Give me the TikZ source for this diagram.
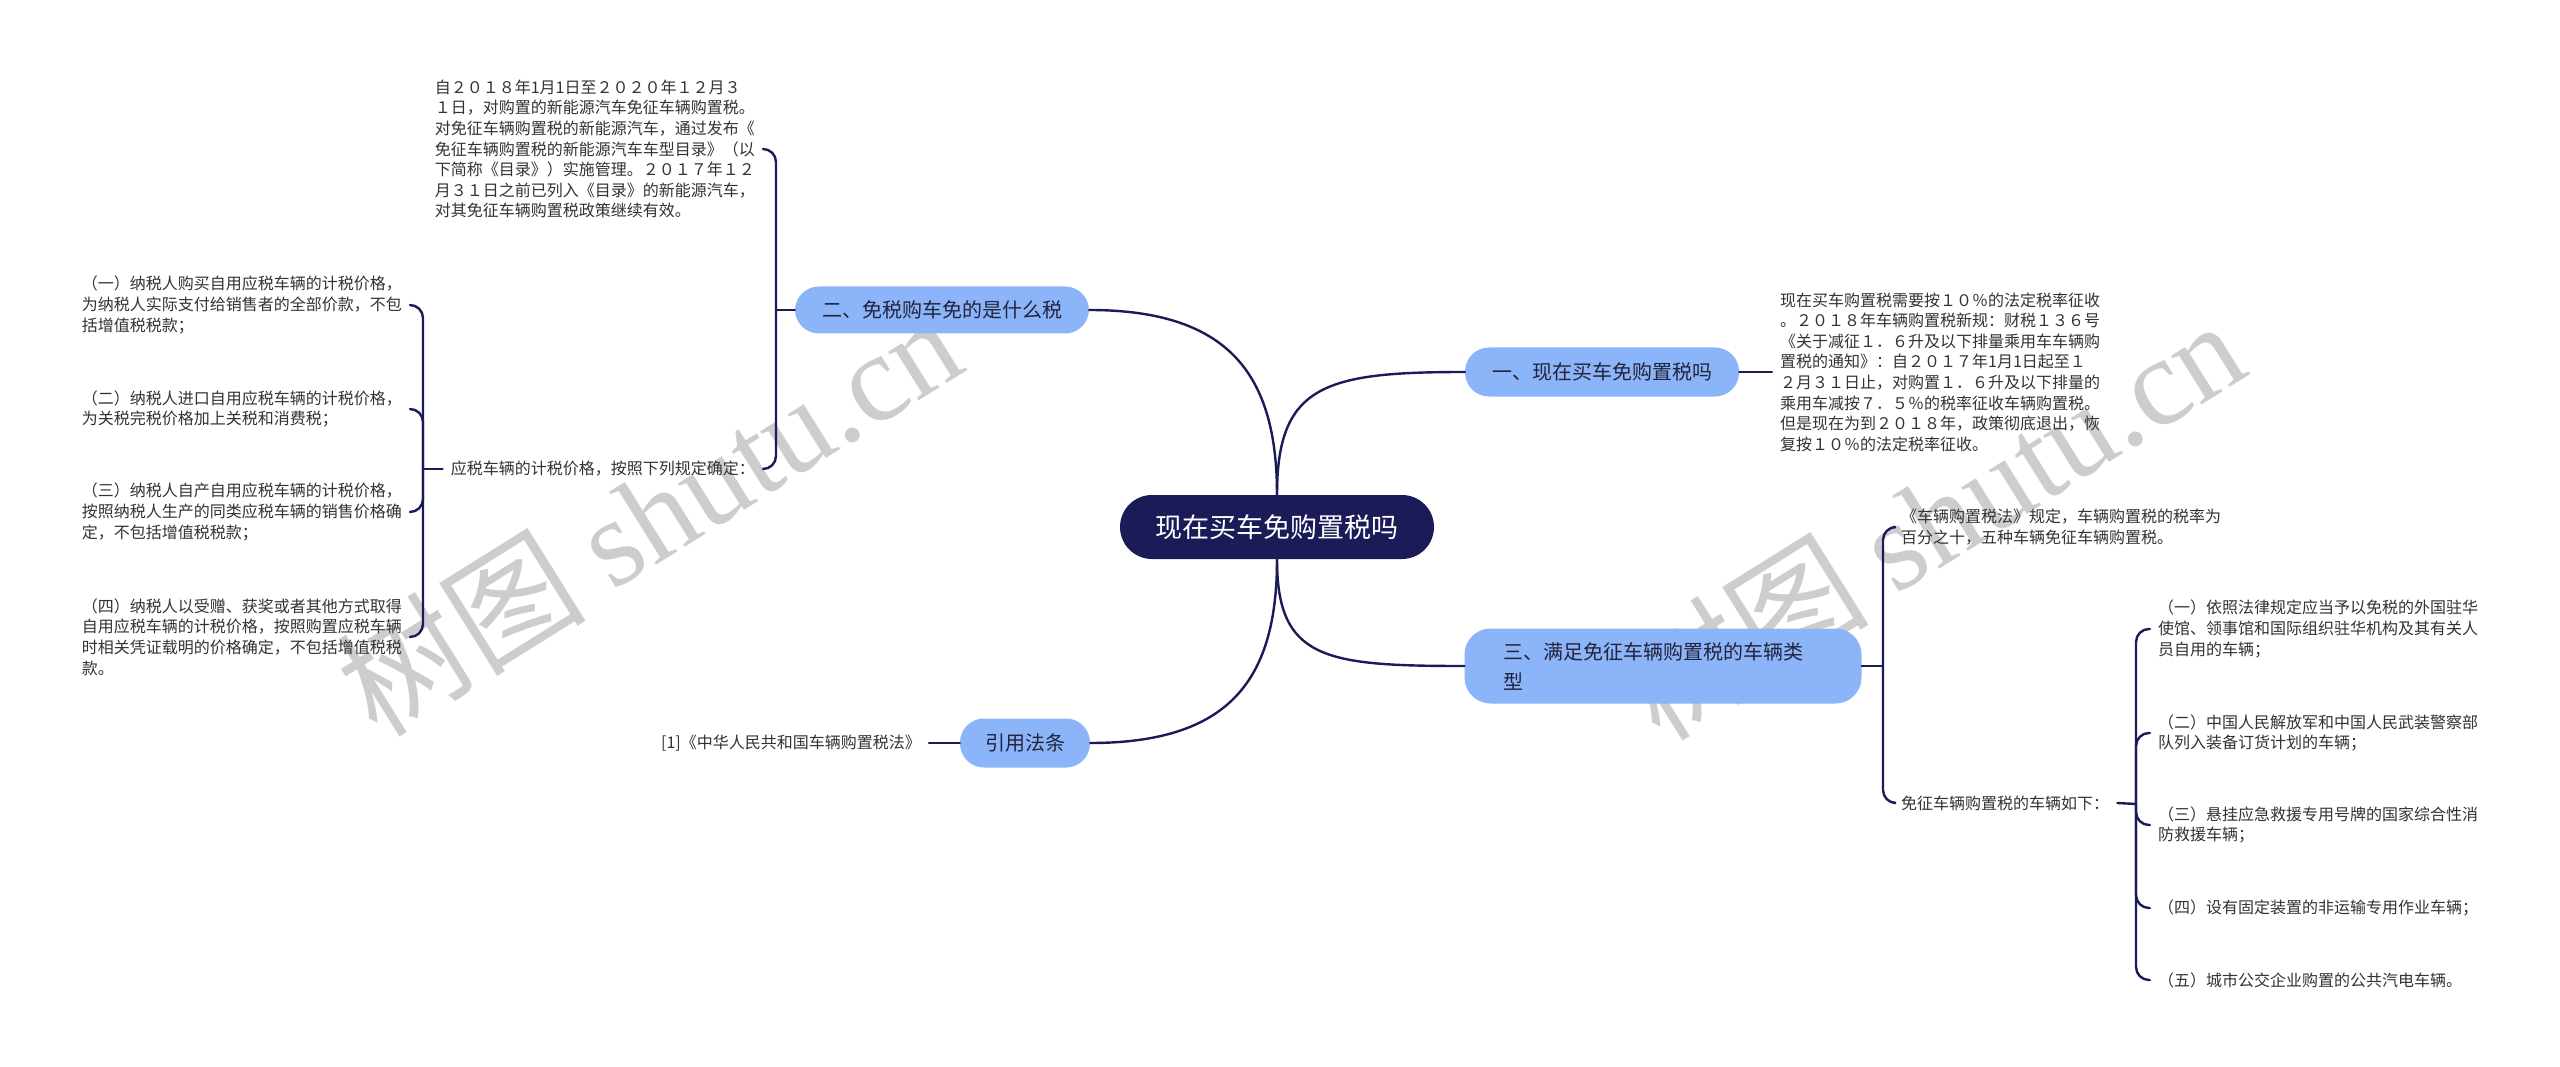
\documentclass[tikz,border=0pt]{standalone}
\usepackage{fontspec}
\setmainfont{Noto Sans CJK SC}
\newfontfamily\wmlatin{Liberation Serif}
\definecolor{navy}{RGB}{27,27,88}
\definecolor{lblue}{RGB}{140,180,248}
\definecolor{txt}{RGB}{50,50,55}
\definecolor{btxt}{RGB}{35,35,60}
\definecolor{wmgray}{RGB}{205,205,205}
\begin{document}
\begin{tikzpicture}[x=1pt,y=-1pt,
  conn/.style={draw=navy, line width=2.4pt, line cap=round},
  brk/.style={conn, rounded corners=13pt},
  rootbox/.style={fill=navy, text=white, rounded corners=32pt, minimum height=64pt, minimum width=314pt, inner sep=0pt, font=\fontsize{27}{30}\selectfont},
  branch/.style={fill=lblue, text=btxt, rounded corners=24pt, minimum height=49pt, inner sep=0pt, font=\fontsize{20}{24}\selectfont},
  leaf/.style={text=txt, align=left, inner xsep=8pt, inner ysep=2pt, font=\fontsize{16}{20.6}\selectfont},
  wmark/.style={text=wmgray, inner sep=0pt}]
\useasboundingbox[fill=white] (0,0) rectangle (2560,1067);

% watermarks
\node[wmark, rotate=32] (wm1) at (648,514) {\fontsize{125}{130}\selectfont 树图 {\wmlatin shutu.cn}};
\node[wmark, rotate=32] (wm2) at (1931,518) {\fontsize{125}{130}\selectfont 树图 {\wmlatin shutu.cn}};

% root and branches
\node[rootbox] (root) at (1277,527) {现在买车免购置税吗};
\node[branch, minimum width=274pt] (b1) at (1602,372) {一、现在买车免购置税吗};
\node[branch, minimum width=294pt, minimum height=47pt] (b2) at (942,310) {二、免税购车免的是什么税};
\node[branch, minimum width=397pt, minimum height=75pt, rounded corners=26pt, text width=320pt, align=left, font=\fontsize{20}{30}\selectfont] (b3) at (1663,666) {三、满足免征车辆购置税的车辆类\\型};
\node[branch, minimum width=130pt] (b4) at (1025,743) {引用法条};

% branch 1 leaf
\node[leaf, anchor=west] (t1) at (1772,372) {现在买车购置税需要按１０％的法定税率征收\\。２０１８年车辆购置税新规：财税１３６号\\《关于减征１．６升及以下排量乘用车车辆购\\置税的通知》：自２０１７年1月1日起至１\\２月３１日止，对购置１．６升及以下排量的\\乘用车减按７．５％的税率征收车辆购置税。\\但是现在为到２０１８年，政策彻底退出，恢\\复按１０％的法定税率征收。};

% branch 2 leaves
\node[leaf, anchor=east] (c21) at (763,149) {自２０１８年1月1日至２０２０年１２月３\\１日，对购置的新能源汽车免征车辆购置税。\\对免征车辆购置税的新能源汽车，通过发布《\\免征车辆购置税的新能源汽车车型目录》（以\\下简称《目录》）实施管理。２０１７年１２\\月３１日之前已列入《目录》的新能源汽车，\\对其免征车辆购置税政策继续有效。};
\node[leaf, anchor=east] (c22) at (763,469) {应税车辆的计税价格，按照下列规定确定：};
\node[leaf, anchor=east] (l1) at (410,305) {（一）纳税人购买自用应税车辆的计税价格，\\为纳税人实际支付给销售者的全部价款，不包\\括增值税税款；};
\node[leaf, anchor=east] (l2) at (410,409) {（二）纳税人进口自用应税车辆的计税价格，\\为关税完税价格加上关税和消费税；};
\node[leaf, anchor=east] (l3) at (410,512) {（三）纳税人自产自用应税车辆的计税价格，\\按照纳税人生产的同类应税车辆的销售价格确\\定，不包括增值税税款；};
\node[leaf, anchor=east] (l4) at (410,637) {（四）纳税人以受赠、获奖或者其他方式取得\\自用应税车辆的计税价格，按照购置应税车辆\\时相关凭证载明的价格确定，不包括增值税税\\款。};

% branch 3 leaves
\node[leaf, anchor=west] (c31) at (1893,527) {《车辆购置税法》规定，车辆购置税的税率为\\百分之十，五种车辆免征车辆购置税。};
\node[leaf, anchor=west] (c32) at (1893,803) {免征车辆购置税的车辆如下：};
\node[leaf, anchor=west] (r1) at (2150,629) {（一）依照法律规定应当予以免税的外国驻华\\使馆、领事馆和国际组织驻华机构及其有关人\\员自用的车辆；};
\node[leaf, anchor=west] (r2) at (2150,733) {（二）中国人民解放军和中国人民武装警察部\\队列入装备订货计划的车辆；};
\node[leaf, anchor=west] (r3) at (2150,825) {（三）悬挂应急救援专用号牌的国家综合性消\\防救援车辆；};
\node[leaf, anchor=west] (r4) at (2150,908) {（四）设有固定装置的非运输专用作业车辆；};
\node[leaf, anchor=west] (r5) at (2150,980) {（五）城市公交企业购置的公共汽电车辆。};

% branch 4 leaf
\node[leaf, anchor=east] (c41) at (929,743) {[1]《中华人民共和国车辆购置税法》};

% root connectors
\draw[conn] (root.north) .. controls +(0,-110) and +(-140,0) .. (b1.west);
\draw[conn] (root.north) .. controls +(0,-120) and +(140,0) .. (b2.east);
\draw[conn] (root.south) .. controls +(0,100) and +(-140,0) .. (b3.west);
\draw[conn] (root.south) .. controls +(0,120) and +(140,0) .. (b4.east);

% simple connectors
\draw[conn] (b1.east) -- (t1.west);
\draw[conn] (b4.west) -- (c41.east);

% bracket of branch 2
\coordinate (j2) at (776,310);
\draw[conn] (b2.west) -- (j2);
\draw[brk] (j2) |- (c21.east);
\draw[brk] (j2) |- (c22.east);

% bracket of c22
\coordinate (j22) at (423,469);
\draw[conn] (c22.west) -- (j22);
\foreach \n in {l1,l2,l3,l4} \draw[brk] (j22) |- (\n.east);

% bracket of branch 3
\coordinate (j3) at (1883,666);
\draw[conn] (b3.east) -- (j3);
\draw[brk] (j3) |- (c31.west);
\draw[brk] (j3) |- (c32.west);

% bracket of c32
\coordinate (j32) at (2136,804);
\draw[conn] (c32.east) -- (j32);
\foreach \n in {r1,r2,r3,r4,r5} \draw[brk] (j32) |- (\n.west);
\end{tikzpicture}
\end{document}
